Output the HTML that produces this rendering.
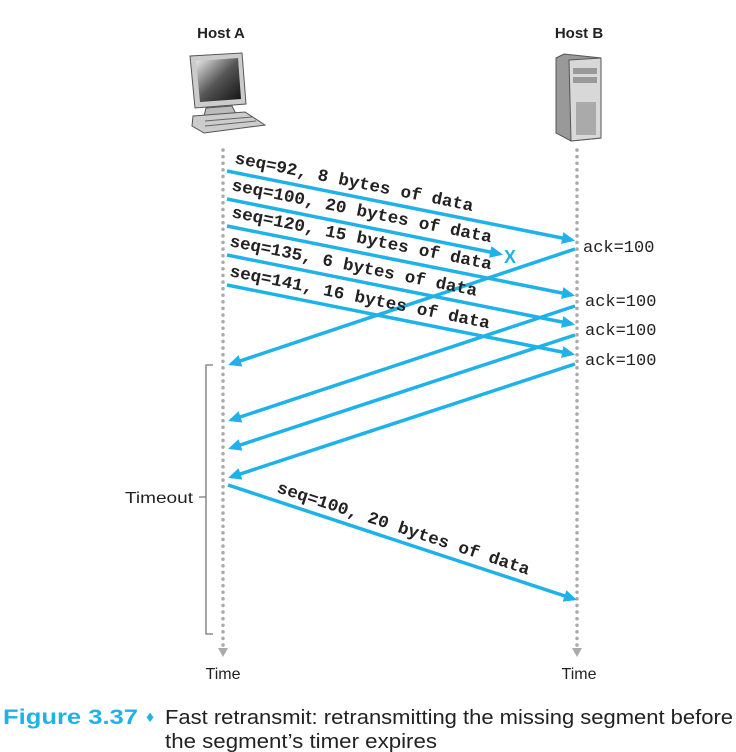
<!DOCTYPE html>
<html><head><style>
body{margin:0;background:#fff;}
svg{display:block;}
.m{font-family:"Liberation Mono",monospace;font-size:17px;font-weight:bold;fill:#222;}
.s{font-family:"Liberation Sans",sans-serif;}
</style></head><body>
<svg width="736" height="752" viewBox="0 0 736 752" xmlns="http://www.w3.org/2000/svg">
<defs>
<marker id="ah" markerWidth="14" markerHeight="12" refX="10" refY="6" orient="auto" markerUnits="userSpaceOnUse">
<path d="M0,0 L13,6 L0,12 z" fill="#1fb2e8"/></marker>
<linearGradient id="scr" x1="0" y1="0" x2="1" y2="1"><stop offset="0" stop-color="#eee"/><stop offset="0.5" stop-color="#555"/><stop offset="1" stop-color="#111"/></linearGradient>
</defs>
<text x="221" y="38" class="s" font-size="15" font-weight="bold" text-anchor="middle" fill="#222">Host A</text>
<text x="579" y="38" class="s" font-size="15" font-weight="bold" text-anchor="middle" fill="#222">Host B</text>
<!-- computer -->
<polygon points="190,56 242,53 246,104 195,108" fill="#ccc" stroke="#555"/>
<polygon points="196,61 238,58 241,99 200,102" fill="url(#scr)"/>
<polygon points="206,108 232,106 236,114 204,116" fill="#bbb" stroke="#555"/>
<polygon points="193,116 245,112 265,125 204,133 192,126" fill="#ccc" stroke="#555"/>
<line x1="205" y1="121" x2="252" y2="117" stroke="#666"/><line x1="205" y1="126" x2="256" y2="121" stroke="#666"/>
<!-- server -->
<polygon points="556,58 564,54 601,58 601,138 571,141 556,133" fill="#999" stroke="#555"/>
<polygon points="569,60 601,58 601,138 571,141" fill="#d8d8d8" stroke="#555"/>
<rect x="573" y="68" width="24" height="6" fill="#999"/><rect x="573" y="77" width="24" height="6" fill="#999"/>
<rect x="576" y="102" width="20" height="33" fill="#aaa"/>
<!-- timelines -->
<line x1="223" y1="150" x2="223" y2="648" stroke="#aaa" stroke-width="3.5" stroke-dasharray="0.1 6.5" stroke-linecap="round"/>
<line x1="577" y1="150" x2="577" y2="648" stroke="#aaa" stroke-width="3.5" stroke-dasharray="0.1 6.5" stroke-linecap="round"/>
<polygon points="218,648 228,648 223,657" fill="#aaa"/>
<polygon points="572,648 582,648 577,657" fill="#aaa"/>
<g stroke="#1fb2e8" stroke-width="3.5" fill="none" marker-end="url(#ah)">
<line x1="227" y1="171" x2="572" y2="240"/>
<line x1="227" y1="199" x2="500" y2="254"/>
<line x1="227" y1="226" x2="572" y2="295"/>
<line x1="227" y1="255" x2="572" y2="324"/>
<line x1="227" y1="285" x2="572" y2="354"/>
<line x1="575" y1="249" x2="231" y2="364"/>
<line x1="575" y1="306" x2="231" y2="420"/>
<line x1="575" y1="335" x2="231" y2="448"/>
<line x1="575" y1="364" x2="231" y2="477"/>
<line x1="228" y1="485" x2="574" y2="599"/>
</g>
<text x="504" y="263" class="s" font-size="18" font-weight="bold" fill="#1fb2e8">X</text>
<g class="m">
<text transform="translate(234,163) rotate(11.4)" textLength="243" lengthAdjust="spacingAndGlyphs">seq=92, 8 bytes of data</text>
<text transform="translate(231,190) rotate(11.4)" textLength="265" lengthAdjust="spacingAndGlyphs">seq=100, 20 bytes of data</text>
<text transform="translate(231,217) rotate(11.4)" textLength="265" lengthAdjust="spacingAndGlyphs">seq=120, 15 bytes of data</text>
<text transform="translate(229,246) rotate(11.4)" textLength="252" lengthAdjust="spacingAndGlyphs">seq=135, 6 bytes of data</text>
<text transform="translate(229,276) rotate(11.4)" textLength="265" lengthAdjust="spacingAndGlyphs">seq=141, 16 bytes of data</text>
<text transform="translate(276,492) rotate(18.2)" textLength="265" lengthAdjust="spacingAndGlyphs">seq=100, 20 bytes of data</text>
<text x="583" y="252" font-weight="normal">ack=100</text>
<text x="585" y="306" font-weight="normal">ack=100</text>
<text x="585" y="335" font-weight="normal">ack=100</text>
<text x="585" y="365" font-weight="normal">ack=100</text>
</g>
<path d="M213,365 H206 V634 H213 M206,497 H199" stroke="#777" stroke-width="1.3" fill="none"/>
<text x="193" y="503" class="s" font-size="16" text-anchor="end" fill="#222" textLength="68" lengthAdjust="spacingAndGlyphs">Timeout</text>
<text x="223" y="679" class="s" font-size="16" text-anchor="middle" fill="#222">Time</text>
<text x="579" y="679" class="s" font-size="16" text-anchor="middle" fill="#222">Time</text>
<text x="3" y="724" class="s" font-size="21" font-weight="bold" fill="#1fb2e8" textLength="135" lengthAdjust="spacingAndGlyphs">Figure 3.37</text>
<text x="146" y="722" class="s" font-size="16" fill="#1fb2e8">♦</text>
<text x="165" y="724" class="s" font-size="20" fill="#222" textLength="568" lengthAdjust="spacingAndGlyphs">Fast retransmit: retransmitting the missing segment before</text>
<text x="165" y="748" class="s" font-size="20" fill="#222" textLength="272" lengthAdjust="spacingAndGlyphs">the segment’s timer expires</text>
</svg>
</body></html>
